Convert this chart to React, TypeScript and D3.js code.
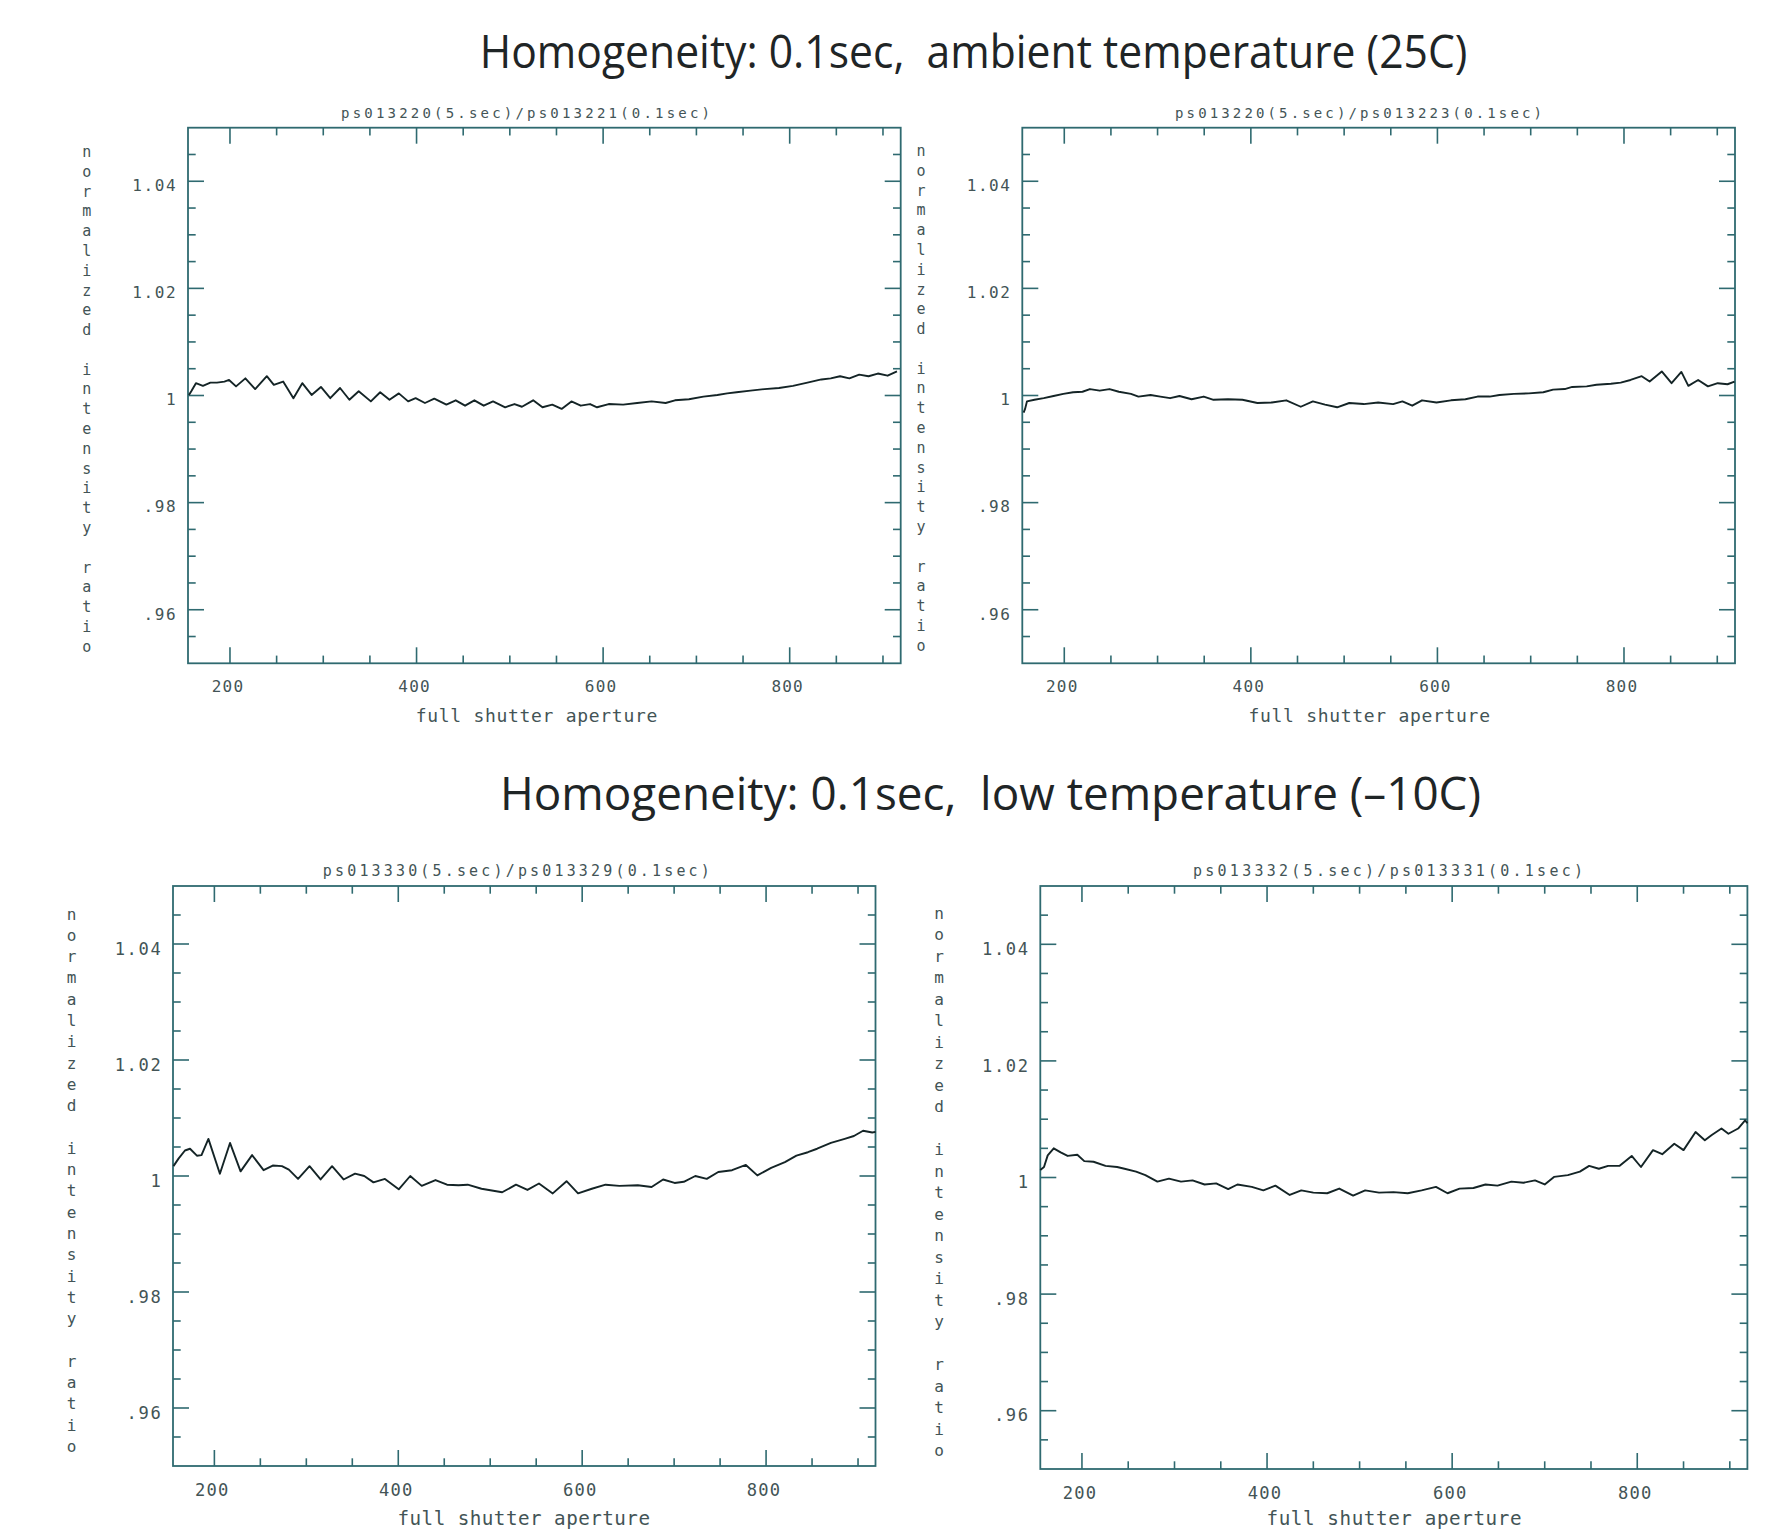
import React from "react";
import * as d3 from "d3";

// ---------- titles / labels ----------
const titleAmbient = "Homogeneity: 0.1sec,  ambient temperature (25C)";
const titleLow = "Homogeneity: 0.1sec,  low temperature (–10C)";
const subtitles = [
  "ps013220(5.sec)/ps013221(0.1sec)",
  "ps013220(5.sec)/ps013223(0.1sec)",
  "ps013330(5.sec)/ps013329(0.1sec)",
  "ps013332(5.sec)/ps013331(0.1sec)",
];
const xAxisLabel = "full shutter aperture";
const yAxisLabel = "normalized intensity ratio";

// ---------- axes ----------
const xDomain = [155, 919];
const yDomain = [0.95, 1.05];
const xMajorTicks = [200, 400, 600, 800];
const xMinorTicks = [250, 300, 350, 450, 500, 550, 650, 700, 750, 850, 900];
const yMajorTicks = [0.96, 0.98, 1.0, 1.02, 1.04];
const yMajorLabels = [".96", ".98", "1", "1.02", "1.04"];
const yMinorTicks = [0.955, 0.965, 0.97, 0.975, 0.985, 0.99, 0.995, 1.005, 1.01, 1.015, 1.025, 1.03, 1.035, 1.045];

// ---------- series (x = shutter position, y = normalized ratio) ----------
const ambientA: [number, number][] = [
  [156, 1.0001], [158.5, 1.0008], [163.5, 1.0023], [171, 1.0018], [179, 1.0024], [186, 1.0024],
  [194, 1.0026], [199, 1.0029], [206.5, 1.0017], [216.5, 1.0032], [227, 1.0012], [239.5, 1.0036],
  [247, 1.002], [257, 1.0026], [268, 0.9995], [277.5, 1.0023], [287.5, 1.0001], [297.5, 1.0016],
  [307.5, 0.9995], [318, 1.0014], [328, 0.9992], [338, 1.0008], [351, 0.9989], [361, 1.0006],
  [371, 0.9992], [381, 1.0004], [391, 0.9989], [399, 0.9995], [409, 0.9986], [419, 0.9994],
  [432, 0.9983], [442, 0.9991], [452, 0.9981], [462, 0.9991], [472, 0.9981], [482, 0.9989],
  [495, 0.9978], [505, 0.9984], [513, 0.9979], [525, 0.9991], [535, 0.9978], [545.5, 0.9983],
  [555.5, 0.9975], [566, 0.9989], [576, 0.9981], [586, 0.9984], [593.5, 0.9978], [606, 0.9984],
  [621.5, 0.9983], [636.5, 0.9986], [652, 0.9989], [667, 0.9986], [677, 0.9991], [692, 0.9993],
  [707.5, 0.9998], [722.5, 1.0001], [733, 1.0004], [743, 1.0006], [758, 1.0009], [773, 1.0012],
  [788.5, 1.0014], [803.5, 1.0018], [819, 1.0024], [834, 1.003], [844, 1.0032], [854, 1.0036],
  [864, 1.0032], [874.5, 1.0039], [884.5, 1.0036], [894.5, 1.0041], [905, 1.0037], [915, 1.0045],
];

const ambientB: [number, number][] = [
  [156.4, 0.9968], [158, 0.9975], [160, 0.9989], [168, 0.9992], [178, 0.9995], [188.5, 0.9999],
  [199, 1.0003], [209.5, 1.0006], [219.5, 1.0007], [227.5, 1.0012], [238, 1.0009], [248.5, 1.0012],
  [258.5, 1.0007], [271.5, 1.0003], [279.5, 0.9998], [292.5, 1.0001], [303, 0.9998], [313.5, 0.9995],
  [323.5, 0.9999], [336.5, 0.9993], [349.5, 0.9998], [360, 0.9992], [375.5, 0.9993], [391, 0.9992],
  [407, 0.9986], [422.5, 0.9987], [438, 0.9991], [453.5, 0.9979], [466.5, 0.9989], [479.5, 0.9983],
  [492.5, 0.9978], [505.5, 0.9986], [521, 0.9984], [536.5, 0.9987], [552.5, 0.9984], [562.5, 0.9989],
  [573, 0.9981], [583.5, 0.9991], [599, 0.9987], [614.5, 0.9991], [630, 0.9993], [643, 0.9998],
  [656, 0.9998], [666.5, 1.0001], [682, 1.0003], [698, 1.0004], [713.5, 1.0006], [724, 1.0011],
  [736.5, 1.0012], [744.5, 1.0016], [760, 1.0017], [770.5, 1.002], [786, 1.0022], [796.5, 1.0024],
  [807, 1.0029], [819, 1.0036], [827.5, 1.0026], [840.5, 1.0045], [851, 1.0023], [861.5, 1.0044],
  [869, 1.0018], [879.5, 1.0029], [890, 1.0017], [900.5, 1.0023], [911, 1.0021], [918.5, 1.0026],
];

const lowA: [number, number][] = [
  [155.5, 1.0017], [161, 1.003], [168, 1.0044], [173.5, 1.0047], [181, 1.0035], [186, 1.0036],
  [193.5, 1.0064], [206, 1.0004], [217, 1.0057], [228.5, 1.0008], [241, 1.0036], [253.5, 1.001],
  [263.5, 1.0018], [273.5, 1.0017], [281, 1.0011], [291, 0.9995], [303.5, 1.0017], [315.5, 0.9994],
  [328, 1.0017], [340.5, 0.9994], [353, 1.0004], [363, 1.0], [373, 0.9989], [385.5, 0.9995],
  [400.5, 0.9977], [413, 1.0], [425.5, 0.9983], [440.5, 0.9993], [453, 0.9985], [465.5, 0.9984],
  [475.5, 0.9985], [490.5, 0.9978], [513, 0.9972], [528, 0.9985], [540.5, 0.9976], [553, 0.9987],
  [568, 0.997], [583, 0.9991], [595.5, 0.997], [610.5, 0.9978], [625.5, 0.9985], [640.5, 0.9983],
  [660.5, 0.9984], [675.5, 0.9981], [688, 0.9994], [700.5, 0.9988], [710.5, 0.999], [723, 1.0],
  [735.5, 0.9995], [748, 1.0007], [763, 1.001], [778, 1.0019], [790.5, 1.0001], [805.5, 1.0014],
  [820.5, 1.0024], [833, 1.0035], [845.5, 1.0041], [855.5, 1.0047], [870.5, 1.0057], [885.5, 1.0064],
  [895.5, 1.0069], [905.5, 1.0078], [915.5, 1.0075], [919, 1.0076],
];

const lowB: [number, number][] = [
  [155, 1.0013], [159, 1.0018], [163, 1.0038], [169.5, 1.005], [177, 1.0043], [184.5, 1.0037],
  [195, 1.0039], [202.5, 1.0028], [212.5, 1.0027], [225.5, 1.002], [238, 1.0018], [246, 1.0015],
  [258.5, 1.001], [268.5, 1.0004], [281.5, 0.9993], [294, 0.9998], [307, 0.9993], [319.5, 0.9995],
  [332.5, 0.9988], [345, 0.999], [358, 0.998], [368, 0.9988], [383.5, 0.9984], [396, 0.9978],
  [409, 0.9986], [424.5, 0.997], [437, 0.9978], [450, 0.9974], [465, 0.9973], [478, 0.9981],
  [493, 0.9969], [506, 0.9978], [521, 0.9974], [536.5, 0.9975], [552, 0.9973], [567, 0.9978],
  [582.5, 0.9984], [595, 0.9973], [608, 0.9981], [623, 0.9982], [636, 0.9988], [649, 0.9986],
  [664, 0.9993], [677, 0.9991], [689.5, 0.9995], [700, 0.9988], [710, 1.0001], [725, 1.0004],
  [738, 1.001], [748, 1.002], [758.5, 1.0015], [768.5, 1.002], [781, 1.002], [794, 1.0037],
  [804, 1.0018], [817, 1.0047], [827, 1.004], [840, 1.0058], [850, 1.0047], [863, 1.0078],
  [873, 1.0064], [880.5, 1.0073], [891, 1.0084], [898.5, 1.0075], [909, 1.0084], [916.5, 1.0098],
  [919, 1.0093],
];

const seriesList = [ambientA, ambientB, lowA, lowB];

// ---------- layout (pixels) ----------
const layout = [
  { left: 188, right: 900.7, top: 127.7, bottom: 663.3, subX: 341, subW: 369, xlabX: 415.7, xlabW: 241.6, xlabY: 721.7, k: 1, ylabFirst: 152, ylabStep: 19.79 },
  { left: 1022.3, right: 1735, top: 127.7, bottom: 663.3, subX: 1175, subW: 367, xlabX: 1248.5, xlabW: 241.5, xlabY: 721.7, k: 1, ylabFirst: 151, ylabStep: 19.79 },
  { left: 173, right: 875.5, top: 886, bottom: 1466, subX: 322.8, subW: 387, xlabX: 397.5, xlabW: 252.5, xlabY: 1524.5, k: 1.07, ylabFirst: 914, ylabStep: 21.3 },
  { left: 1040.3, right: 1747.4, top: 886, bottom: 1469, subX: 1193, subW: 390, xlabX: 1266.5, xlabW: 255, xlabY: 1524.5, k: 1.07, ylabFirst: 913, ylabStep: 21.5 },
];

const AXIS = "#2f6a70";
const TEXT = "#435456";
const LINE = "#142426";
const MONO = "'DejaVu Sans Mono', 'Liberation Mono', monospace";

function Panel({ idx }: { idx: number }) {
  const L = layout[idx];
  const data = seriesList[idx];
  const x = d3.scaleLinear().domain(xDomain).range([L.left, L.right]);
  const y = d3.scaleLinear().domain(yDomain).range([L.bottom, L.top]);
  const line = d3
    .line<[number, number]>()
    .x((d) => x(d[0]))
    .y((d) => y(d[1]));
  const majLen = 16;
  const minLen = 7.7;
  const k = L.k;
  const letters = yAxisLabel.split("");
  return (
    <g>
      <text
        x={L.subX}
        y={L.top - 9.8}
        fontFamily={MONO}
        fontSize={14 * k}
        fill={TEXT}
        textLength={L.subW}
        lengthAdjust="spacing"
      >
        {subtitles[idx]}
      </text>
      <rect
        x={L.left}
        y={L.top}
        width={L.right - L.left}
        height={L.bottom - L.top}
        fill="none"
        stroke={AXIS}
        strokeWidth={1.8}
      />
      {xMajorTicks.map((t) => (
        <g key={"xM" + t}>
          <line x1={x(t)} x2={x(t)} y1={L.bottom} y2={L.bottom - majLen} stroke={AXIS} strokeWidth={1.6} />
          <line x1={x(t)} x2={x(t)} y1={L.top} y2={L.top + majLen} stroke={AXIS} strokeWidth={1.6} />
          <text
            x={x(t) - 2}
            y={L.bottom + 22.7 * k}
            dominantBaseline="central"
            textAnchor="middle"
            fontFamily={MONO}
            fontSize={16 * k}
            letterSpacing={1.2}
            fill={TEXT}
          >
            {String(t)}
          </text>
        </g>
      ))}
      {xMinorTicks.map((t) => (
        <g key={"xm" + t}>
          <line x1={x(t)} x2={x(t)} y1={L.bottom} y2={L.bottom - minLen} stroke={AXIS} strokeWidth={1.6} />
          <line x1={x(t)} x2={x(t)} y1={L.top} y2={L.top + minLen} stroke={AXIS} strokeWidth={1.6} />
        </g>
      ))}
      {yMajorTicks.map((t, i) => (
        <g key={"yM" + t}>
          <line x1={L.left} x2={L.left + majLen} y1={y(t)} y2={y(t)} stroke={AXIS} strokeWidth={1.6} />
          <line x1={L.right} x2={L.right - majLen} y1={y(t)} y2={y(t)} stroke={AXIS} strokeWidth={1.6} />
          <text
            x={L.left - 10.7}
            y={y(t) + 4.3 * k}
            dominantBaseline="central"
            textAnchor="end"
            fontFamily={MONO}
            fontSize={16 * k}
            letterSpacing={1.6}
            fill={TEXT}
          >
            {yMajorLabels[i]}
          </text>
        </g>
      ))}
      {yMinorTicks.map((t) => (
        <g key={"ym" + t}>
          <line x1={L.left} x2={L.left + minLen} y1={y(t)} y2={y(t)} stroke={AXIS} strokeWidth={1.6} />
          <line x1={L.right} x2={L.right - minLen} y1={y(t)} y2={y(t)} stroke={AXIS} strokeWidth={1.6} />
        </g>
      ))}
      <text
        x={L.xlabX}
        y={L.xlabY}
        fontFamily={MONO}
        fontSize={18 * k}
        fill={TEXT}
        textLength={L.xlabW}
        lengthAdjust="spacing"
      >
        {xAxisLabel}
      </text>
      {letters.map((c, i) =>
        c === " " ? null : (
          <text
            key={"yl" + i}
            x={L.left - 101.3}
            y={L.ylabFirst + i * L.ylabStep}
            dominantBaseline="central"
            textAnchor="middle"
            fontFamily={MONO}
            fontSize={15 * k}
            fill={TEXT}
          >
            {c}
          </text>
        )
      )}
      <path d={line(data) || ""} fill="none" stroke={LINE} strokeWidth={1.9} strokeLinejoin="round" />
    </g>
  );
}

export default function App() {
  return (
    <svg
      width={1770}
      height={1530}
      viewBox="0 0 1770 1530"
      style={{ position: "absolute", left: 0, top: 0, background: "#ffffff" }}
    >
      <rect x={0} y={0} width={1770} height={1530} fill="#ffffff" />
      <text
        x={479.7}
        y={67.5}
        fontFamily="'Open Sans', 'Noto Sans', sans-serif"
        fontSize={45}
        fill="#1f2526"
        textLength={987.7}
        lengthAdjust="spacingAndGlyphs"
        style={{ whiteSpace: "pre" }}
      >
        {titleAmbient}
      </text>
      <text
        x={500}
        y={810}
        fontFamily="'Open Sans', 'Noto Sans', sans-serif"
        fontSize={45}
        fill="#1f2526"
        textLength={981}
        lengthAdjust="spacingAndGlyphs"
        style={{ whiteSpace: "pre" }}
      >
        {titleLow}
      </text>
      {[0, 1, 2, 3].map((i) => (
        <Panel key={i} idx={i} />
      ))}
    </svg>
  );
}
